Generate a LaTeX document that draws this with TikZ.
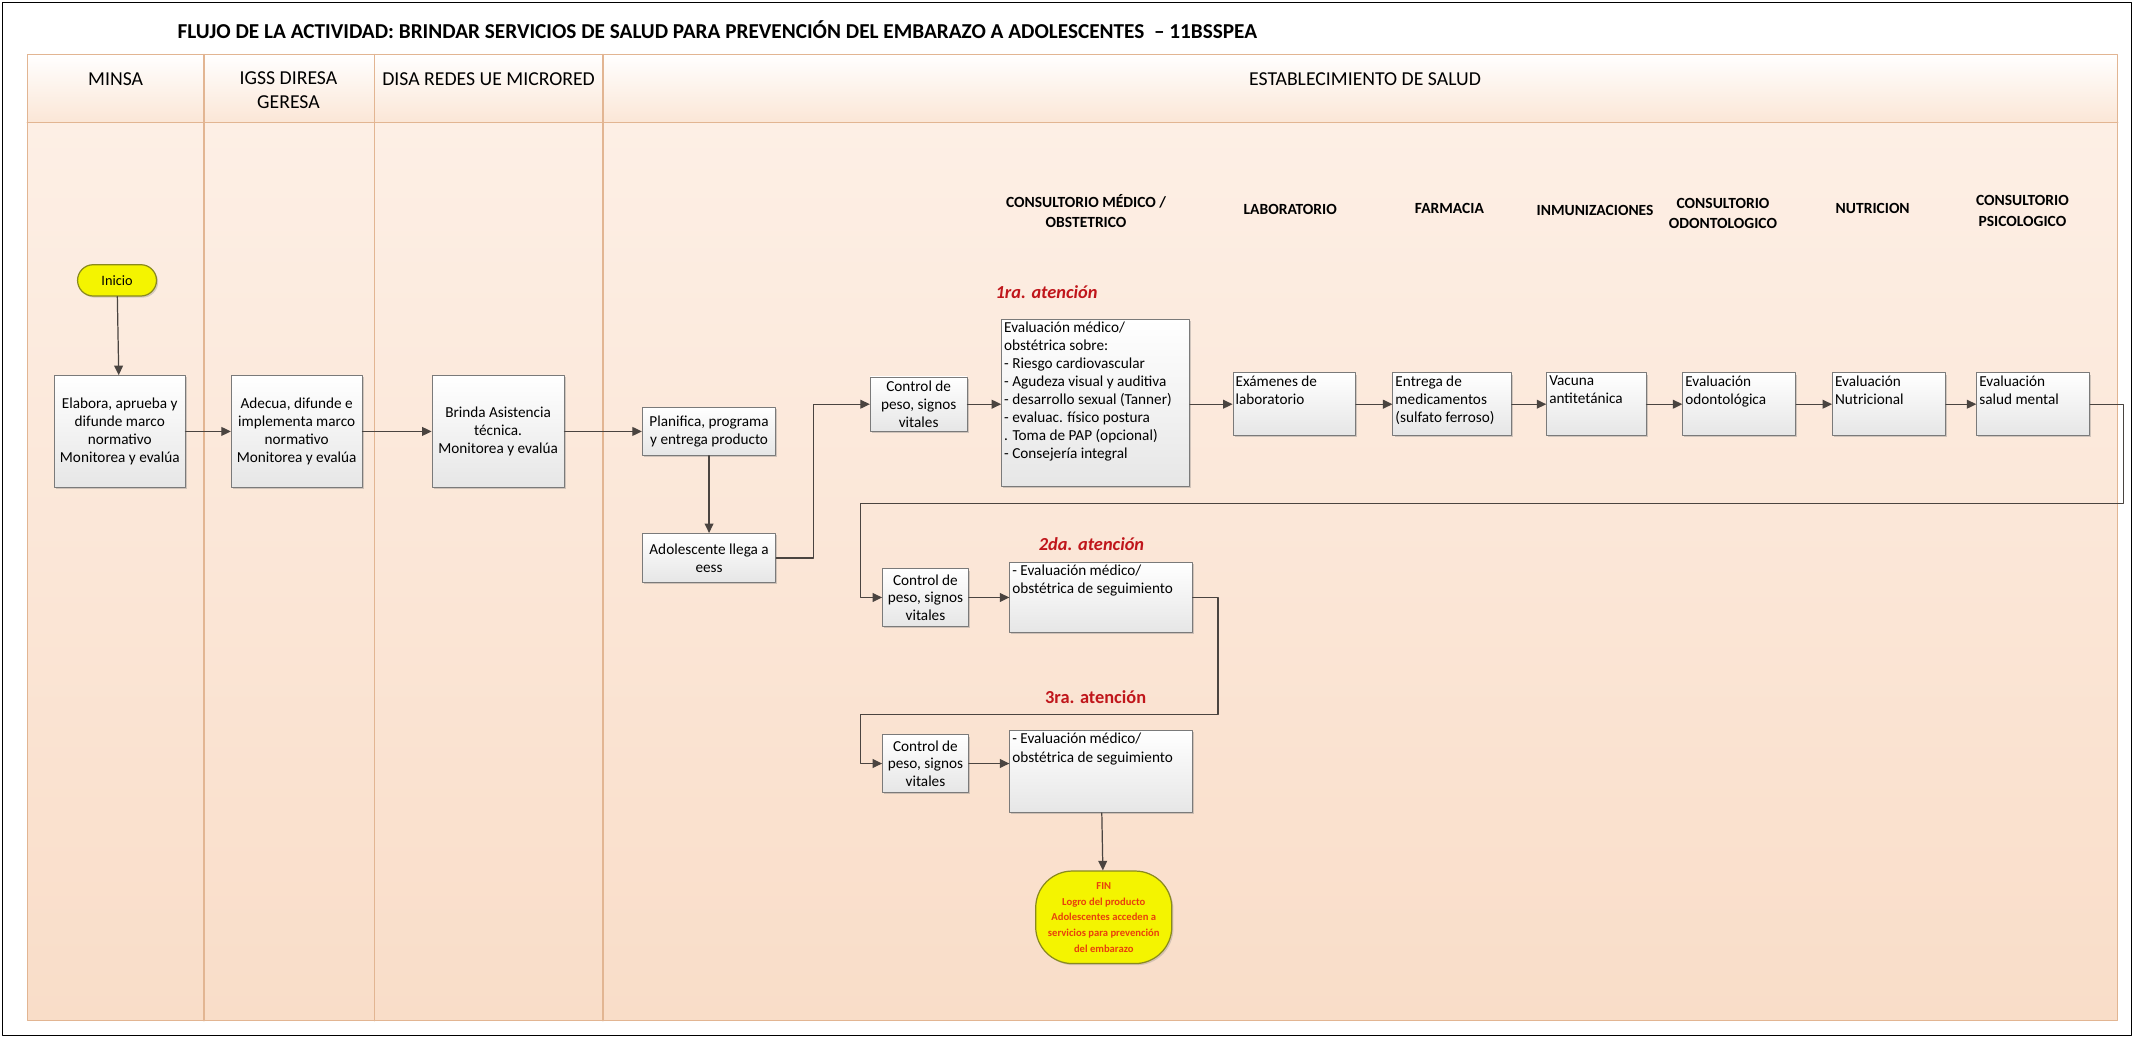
\documentclass[tikz,border=0pt]{standalone}
\usepackage{fontspec}
\setmainfont{Carlito}
\usepackage{tikz}
\usetikzlibrary{arrows.meta,shadows,positioning}
\definecolor{FigureLane}{HTML}{F9DDC8}
\definecolor{FigureLaneTop}{HTML}{FDEFE5}
\definecolor{FigureLaneEdge}{HTML}{E2B592}
\definecolor{FigureHead}{HTML}{FBE6D6}
\definecolor{FigureBoxEdge}{HTML}{7A7A7A}
\definecolor{FigureBoxBot}{HTML}{E6E6E6}
\definecolor{FigureArrow}{HTML}{4A4440}
\definecolor{FigureRed}{HTML}{C0161B}
\definecolor{FigureYellow}{HTML}{F4F400}
\definecolor{FigureOlive}{HTML}{8A8A1E}
\definecolor{FigureFinText}{HTML}{E8400C}

\begin{document}
\begin{tikzpicture}[x=1pt,y=-1pt,line cap=round,line join=round,
  procbox/.style={draw=FigureBoxEdge,line width=.7pt,top color=white,bottom color=FigureBoxBot,
    drop shadow={shadow xshift=1.2pt,shadow yshift=-1.2pt,opacity=.35},
    font=\fontsize{11.2}{13}\selectfont,align=center,inner sep=1.5pt},
  toptxt/.style={anchor=north west,align=left,inner sep=2pt,font=\fontsize{11.2}{13.3}\selectfont},
  terminal/.style={draw=FigureOlive,line width=.9pt,fill=FigureYellow,
    drop shadow={shadow xshift=1.2pt,shadow yshift=-1.2pt,opacity=.3},align=center},
  flow/.style={draw=FigureArrow,line width=.9pt,-{Triangle[length=7pt,width=6.5pt]}},
  lanehead/.style={font=\fontsize{14.5}{18}\selectfont,align=center},
  areahead/.style={font=\bfseries\fontsize{11.4}{15}\selectfont,align=center},
  turno/.style={text=FigureRed,font=\bfseries\itshape\fontsize{13.5}{15}\selectfont}]
  \useasboundingbox (0,0) rectangle (1568,763);

  % swimlanes
  \shade[top color=FigureLaneTop,bottom color=FigureLane] (20,90) rectangle (1556,750);
  \shade[top color=white,bottom color=FigureHead] (20,40) rectangle (1556,90);
  \draw[FigureLaneEdge,line width=1pt] (20,40) rectangle (1556,750);
  \draw[FigureLaneEdge,line width=1pt] (20,90) -- (1556,90);
  \foreach \x in {150,275,443}
    \draw[FigureLaneEdge,line width=1pt] (\x,40) -- (\x,750);
  \draw[line width=1pt] (2,2) rectangle (1566,761);

  \node[font=\bfseries\fontsize{15.6}{18}\selectfont,anchor=west] (titulo) at (127,22)
    {FLUJO DE LA ACTIVIDAD: BRINDAR SERVICIOS DE SALUD PARA PREVENCIÓN DEL EMBARAZO A ADOLESCENTES \ – 11BSSPEA};
  \node[lanehead] (minsa) at (85,58) {MINSA};
  \node[lanehead,anchor=north] (igss) at (212,49) {IGSS DIRESA\\GERESA};
  \node[lanehead] (disa) at (359,58) {DISA REDES UE MICRORED};
  \node[lanehead] (eess) at (1003,58) {ESTABLECIMIENTO DE SALUD};

  % areas of the health centre
  \node[areahead] (cmed) at (798,155) {CONSULTORIO MÉDICO /\\OBSTETRICO};
  \node[areahead] (lab) at (948,154) {LABORATORIO};
  \node[areahead] (far) at (1065,153) {FARMACIA};
  \node[areahead] (inm) at (1172,155) {INMUNIZACIONES};
  \node[areahead] (odon) at (1266,157) {CONSULTORIO\\ODONTOLOGICO};
  \node[areahead] (nutri) at (1376,153) {NUTRICION};
  \node[areahead] (psico) at (1486,155) {CONSULTORIO\\PSICOLOGICO};

  % steps
  \node[terminal,rounded corners=11.5,minimum width=58,minimum height=23,
    font=\fontsize{10.5}{12}\selectfont] (ini) at (86,206) {Inicio};
  \node[procbox,minimum width=96,minimum height=82] (ela) at (88,317)
    {Elabora, aprueba y\\difunde marco\\normativo\\Monitorea y evalúa};
  \node[procbox,minimum width=96,minimum height=82] (ade) at (218,317)
    {Adecua, difunde e\\implementa marco\\normativo\\Monitorea y evalúa};
  \node[procbox,minimum width=97,minimum height=82] (bri) at (366,317)
    {Brinda Asistencia\\técnica.\\Monitorea y evalúa};
  \node[procbox,minimum width=98,minimum height=35] (pla) at (521,317)
    {Planifica, programa\\y entrega producto};
  \node[procbox,minimum width=98,minimum height=36] (ado) at (521,410)
    {Adolescente llega a\\eess};

  \node[turno] (at1) at (769,215) {1ra. atención};
  \node[procbox,minimum width=71,minimum height=40] (c1) at (675,297)
    {Control de\\peso, signos\\vitales};
  \node[procbox,minimum width=138,minimum height=123,
    label={[toptxt]north west:Evaluación médico/\\obstétrica sobre:\\- Riesgo cardiovascular\\- Agudeza visual y auditiva\\- desarrollo sexual (Tanner)\\- evaluac. físico postura\\. Toma de PAP (opcional)\\- Consejería integral}]
    (ev1) at (805,296) {};
  \node[procbox,minimum width=90,minimum height=46,
    label={[toptxt]north west:Exámenes de\\laboratorio}] (exa) at (951,297) {};
  \node[procbox,minimum width=87,minimum height=46,
    label={[toptxt]north west:Entrega de\\medicamentos\\(sulfato ferroso)}] (ent) at (1067,297) {};
  \node[procbox,minimum width=73,minimum height=46,
    label={[toptxt]north west:Vacuna\\antitetánica}] (vac) at (1173,297) {};
  \node[procbox,minimum width=83,minimum height=46,
    label={[toptxt]north west:Evaluación\\odontológica}] (odo) at (1278,297) {};
  \node[procbox,minimum width=83,minimum height=46,
    label={[toptxt]north west:Evaluación\\Nutricional}] (nut) at (1388,297) {};
  \node[procbox,minimum width=83,minimum height=46,
    label={[toptxt]north west:Evaluación\\salud mental}] (sal) at (1494,297) {};

  \node[turno] (at2) at (802,400) {2da. atención};
  \node[procbox,minimum width=63,minimum height=42] (c2) at (680,439)
    {Control de\\peso, signos\\vitales};
  \node[procbox,minimum width=134,minimum height=51,
    label={[toptxt]north west:- Evaluación médico/\\obstétrica de seguimiento}] (ev2) at (809,439) {};

  \node[turno,font=\bfseries\fontsize{13.5}{15}\selectfont] (at3) at (805,512) {3ra. atención};
  \node[procbox,minimum width=63,minimum height=42] (c3) at (680,561)
    {Control de\\peso, signos\\vitales};
  \node[procbox,minimum width=134,minimum height=60,
    label={[toptxt]north west:- Evaluación médico/\\obstétrica de seguimiento}] (ev3) at (809,567) {};

  \node[terminal,rounded corners=27,minimum width=100,minimum height=68,text=FigureFinText,
    font=\bfseries\fontsize{7.8}{11.5}\selectfont] (fin) at (811,674)
    {FIN\\Logro del producto\\Adolescentes acceden a\\servicios para prevención\\del embarazo};

  % connectors
  \coordinate (k1) at (598,410);
  \coordinate (k2) at (1560,370);
  \coordinate (k3) at (632,370);
  \coordinate (k4) at (895,525);
  \coordinate (k5) at (632,525);
  \draw[flow] (ini) -- (ela);
  \draw[flow] (ela) -- (ade);
  \draw[flow] (ade) -- (bri);
  \draw[flow] (bri) -- (pla);
  \draw[flow] (pla) -- (ado);
  \draw[flow] (ado.east) -- (k1) |- (c1.west);
  \draw[flow] (c1) -- (ev1.west |- c1);
  \draw[flow] (ev1.east |- c1) -- (exa);
  \draw[flow] (exa) -- (ent);
  \draw[flow] (ent) -- (vac);
  \draw[flow] (vac) -- (odo);
  \draw[flow] (odo) -- (nut);
  \draw[flow] (nut) -- (sal);
  \draw[flow] (sal.east) -| (k2) -- (k3) |- (c2.west);
  \draw[flow] (c2) -- (ev2);
  \draw[flow] (ev2.east) -| (k4) -- (k5) |- (c3.west);
  \draw[flow] (c3) -- (c3 -| ev3.west);
  \draw[flow] (ev3) -- (fin);
\end{tikzpicture}
\end{document}
